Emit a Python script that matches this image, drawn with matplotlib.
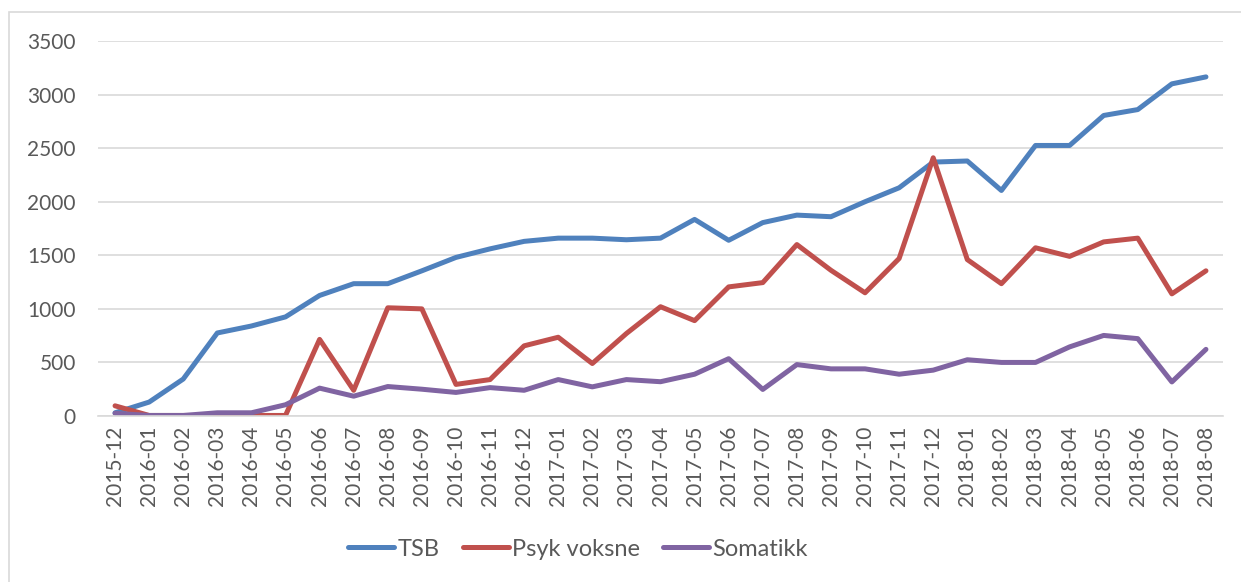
import matplotlib.pyplot as plt

months = ['2015-12', '2016-01', '2016-02', '2016-03', '2016-04', '2016-05', '2016-06',
          '2016-07', '2016-08', '2016-09', '2016-10', '2016-11', '2016-12', '2017-01',
          '2017-02', '2017-03', '2017-04', '2017-05', '2017-06', '2017-07', '2017-08',
          '2017-09', '2017-10', '2017-11', '2017-12', '2018-01', '2018-02', '2018-03',
          '2018-04', '2018-05', '2018-06', '2018-07', '2018-08']

tsb = [30, 130, 345, 775, 840, 925, 1125, 1235, 1235, 1355, 1480, 1560, 1630, 1660,
       1660, 1645, 1660, 1835, 1640, 1805, 1875, 1860, 2000, 2130, 2370, 2380, 2105,
       2525, 2525, 2805, 2860, 3100, 3165]

psyk = [95, 5, 5, 5, 5, 5, 715, 240, 1010, 1000, 295, 340, 655, 735, 490, 770, 1020,
        890, 1205, 1245, 1600, 1360, 1150, 1470, 2410, 1460, 1235, 1570, 1490, 1625,
        1660, 1140, 1355]

soma = [25, 5, 5, 30, 30, 105, 260, 185, 275, 250, 220, 265, 240, 340, 272, 340, 320,
        390, 535, 248, 480, 440, 440, 390, 428, 525, 500, 500, 645, 752, 722, 318, 622]

series = [('TSB', tsb, '#4F81BD'), ('Psyk voksne', psyk, '#C0504D'), ('Somatikk', soma, '#8064A2')]

plt.rcParams['font.family'] = ['Lato', 'DejaVu Sans']

fig = plt.figure(figsize=(12.41, 5.82), dpi=100)
ax = fig.add_axes([98 / 1241, 1 - 416 / 582, (1223 - 98) / 1241, (416 - 41) / 582])

x = list(range(len(months)))
for name, vals, col in series:
    ax.plot(x, vals, color=col, lw=3.6, solid_capstyle='round', solid_joinstyle='round', label=name)

ax.set_xlim(-0.5, len(months) - 0.5)
ax.set_ylim(0, 3500)
ax.set_yticks(range(0, 3501, 500))
ax.set_xticks(x)
ax.set_xticklabels(months, rotation=90)
ax.grid(axis='y', color='#d9d9d9', lw=1.2)
ax.set_axisbelow(True)
for s in ['top', 'right', 'left']:
    ax.spines[s].set_visible(False)
ax.spines['bottom'].set_color('#d9d9d9')
ax.spines['bottom'].set_linewidth(1.2)
ax.tick_params(length=0, labelsize=15, labelcolor='#595959')
ax.tick_params(axis='y', pad=16)
ax.tick_params(axis='x', pad=7)

fig.legend(loc='center', bbox_to_anchor=(578 / 1241, 1 - 549 / 582), ncol=3, frameon=False,
           fontsize=17, handlelength=1.95, handletextpad=0.12, columnspacing=1.0, labelcolor='#595959')

# outer frame like the Excel chart area
fig.patches.append(plt.Rectangle((9 / 1241, -0.01), 1.0, 1 - 12 / 582 + 0.01, transform=fig.transFigure,
                                 fill=False, edgecolor='#d9d9d9', lw=1.2))

fig.savefig('out.png', dpi=100)
